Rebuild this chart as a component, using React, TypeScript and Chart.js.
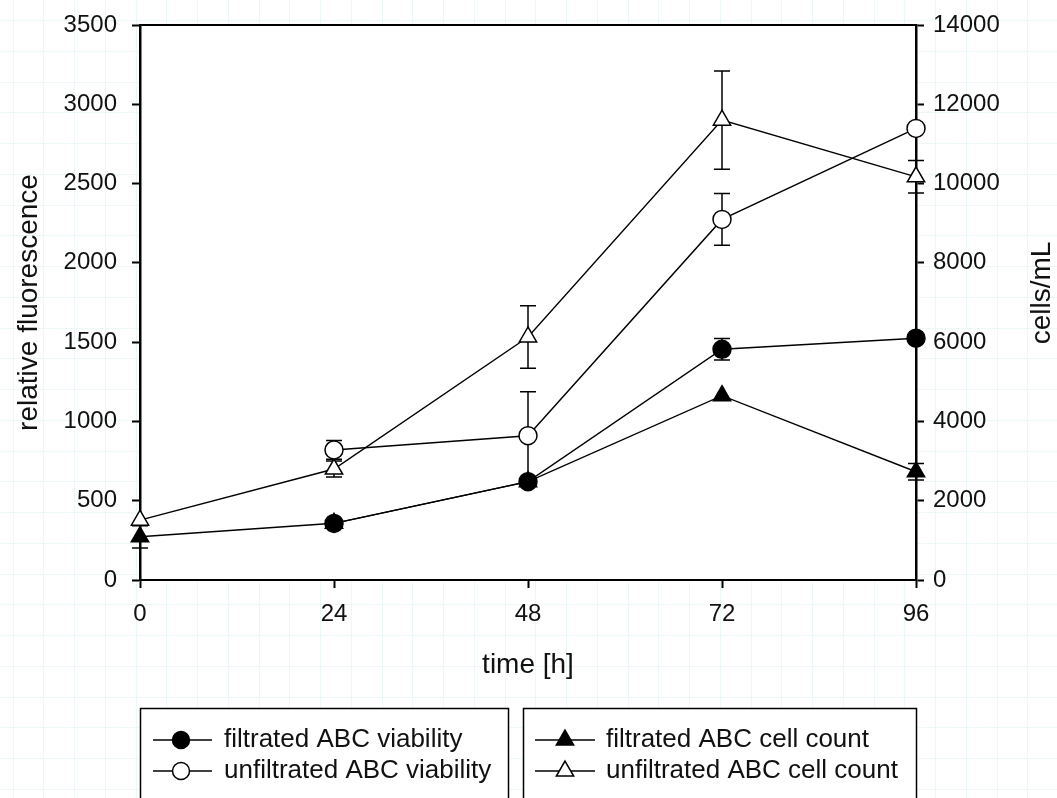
import React, { useEffect, useRef } from "react";
import { Chart, registerables } from "chart.js";

Chart.register(...registerables);

// ---- data ----
const timeH = [0, 24, 48, 72, 96];
const xTicks = [0, 24, 48, 72, 96];
const leftTicks = [0, 500, 1000, 1500, 2000, 2500, 3000, 3500];
const rightTicks = [0, 2000, 4000, 6000, 8000, 10000, 12000, 14000];

const filtViab = [null, 357, 620, 1455, 1525];
const filtViabErr = [0, 0, 0, 68, 0];
const unfiltViab = [null, 820, 910, 2274, 2848];
const unfiltViabErr = [0, 59, 277, 163, 0];
const filtCount = [1090, 1430, 2480, 4650, 2730];
const filtCountErr = [280, 0, 0, 0, 210];
const unfiltCount = [1510, 2800, 6130, 11600, 10170];
const unfiltCountErr = [0, 200, 790, 1240, 410];

const seriesLabels = [
  "filtrated ABC viability",
  "unfiltrated ABC viability",
  "filtrated ABC cell count",
  "unfiltrated ABC cell count",
];

const FONT = "'Liberation Sans', Arial, sans-serif";
const INK = "#111";

const W = 1057;
const H = 798;
const PLOT = { left: 140, right: 916, top: 25, bottom: 580 };

function toPoints(vals: (number | null)[]) {
  return timeH.map((t, i) => ({ x: t, y: vals[i] }));
}

function drawMarker(ctx: CanvasRenderingContext2D, style: string, filled: boolean, x: number, y: number, r: number) {
  ctx.save();
  ctx.beginPath();
  if (style === "circle") {
    ctx.arc(x, y, r, 0, Math.PI * 2);
  } else {
    let rad = 0;
    ctx.moveTo(x + Math.sin(rad) * r, y - Math.cos(rad) * r);
    rad += (2 * Math.PI) / 3;
    ctx.lineTo(x + Math.sin(rad) * r, y - Math.cos(rad) * r);
    rad += (2 * Math.PI) / 3;
    ctx.lineTo(x + Math.sin(rad) * r, y - Math.cos(rad) * r);
    ctx.closePath();
  }
  ctx.fillStyle = filled ? "#000" : "#fff";
  ctx.fill();
  ctx.lineWidth = 1.5;
  ctx.strokeStyle = "#000";
  ctx.stroke();
  ctx.restore();
}

const errors = [filtViabErr, unfiltViabErr, filtCountErr, unfiltCountErr];

const backgroundPlugin = {
  id: "bgGrid",
  beforeDraw(chart: any) {
    const ctx = chart.ctx as CanvasRenderingContext2D;
    ctx.save();
    ctx.fillStyle = "#fff";
    ctx.fillRect(0, 0, W, H);
    ctx.strokeStyle = "#eef7f7";
    ctx.lineWidth = 1;
    const step = 30.75;
    for (let x = 12.5; x < W; x += step) {
      ctx.beginPath();
      ctx.moveTo(Math.round(x) + 0.5, 0);
      ctx.lineTo(Math.round(x) + 0.5, H);
      ctx.stroke();
    }
    for (let y = 20; y < H; y += step) {
      ctx.beginPath();
      ctx.moveTo(0, Math.round(y) + 0.5);
      ctx.lineTo(W, Math.round(y) + 0.5);
      ctx.stroke();
    }
    const a = chart.chartArea;
    ctx.fillStyle = "#fff";
    ctx.fillRect(a.left, a.top, a.right - a.left, a.bottom - a.top);
    ctx.restore();
  },
};

const errorBarPlugin = {
  id: "errorBars",
  beforeDatasetsDraw(chart: any) {
    const ctx = chart.ctx as CanvasRenderingContext2D;
    ctx.save();
    ctx.strokeStyle = "#000";
    ctx.lineWidth = 1.5;
    chart.data.datasets.forEach((ds: any, di: number) => {
      const yScale = chart.scales[ds.yAxisID];
      const xScale = chart.scales.x;
      const err = errors[di];
      ds.data.forEach((p: any, i: number) => {
        if (p.y == null || !err[i]) return;
        const x = xScale.getPixelForValue(p.x);
        const y1 = yScale.getPixelForValue(p.y + err[i]);
        const y2 = yScale.getPixelForValue(p.y - err[i]);
        ctx.beginPath();
        ctx.moveTo(x, y1);
        ctx.lineTo(x, y2);
        ctx.moveTo(x - 8, y1);
        ctx.lineTo(x + 8, y1);
        ctx.moveTo(x - 8, y2);
        ctx.lineTo(x + 8, y2);
        ctx.stroke();
      });
    });
    ctx.restore();
  },
};

const decorPlugin = {
  id: "decor",
  afterDraw(chart: any) {
    const ctx = chart.ctx as CanvasRenderingContext2D;
    const a = chart.chartArea;
    ctx.save();
    // top frame line
    ctx.strokeStyle = "#000";
    ctx.lineWidth = 2;
    ctx.beginPath();
    ctx.moveTo(a.left, a.top);
    ctx.lineTo(a.right, a.top);
    ctx.stroke();

    // axis titles
    ctx.fillStyle = INK;
    ctx.font = `28px ${FONT}`;
    ctx.textAlign = "center";
    ctx.textBaseline = "middle";
    const midY = (a.top + a.bottom) / 2;
    ctx.save();
    ctx.translate(29, midY);
    ctx.rotate(-Math.PI / 2);
    ctx.fillText("relative fluorescence", 0, 0);
    ctx.restore();
    ctx.save();
    ctx.translate(1042, 293);
    ctx.rotate(-Math.PI / 2);
    ctx.fillText("cells/mL", 0, 0);
    ctx.restore();
    ctx.fillText("time [h]", (a.left + a.right) / 2, 665);

    // legend boxes
    const boxes = [
      { x: 140, w: 368, items: [0, 1], lx1: 153, lx2: 212, mx: 181, tx: 224 },
      { x: 523, w: 393, items: [2, 3], lx1: 535, lx2: 595, mx: 565, tx: 606 },
    ];
    const rows = [740, 771];
    const styles = [
      { s: "circle", f: true, r: 8.5 },
      { s: "circle", f: false, r: 8.5 },
      { s: "triangle", f: true, r: 10 },
      { s: "triangle", f: false, r: 10 },
    ];
    boxes.forEach((b) => {
      ctx.fillStyle = "#fff";
      ctx.fillRect(b.x, 708, b.w, 120);
      ctx.strokeStyle = "#000";
      ctx.lineWidth = 1.5;
      ctx.strokeRect(b.x + 0.5, 708.5, b.w, 120);
      b.items.forEach((idx, k) => {
        const y = rows[k];
        ctx.strokeStyle = "#000";
        ctx.lineWidth = 1.5;
        ctx.beginPath();
        ctx.moveTo(b.lx1, y);
        ctx.lineTo(b.lx2, y);
        ctx.stroke();
        const st = styles[idx];
        drawMarker(ctx, st.s, st.f, b.mx, y, st.r);
        ctx.fillStyle = INK;
        ctx.font = `26px ${FONT}`;
        ctx.textAlign = "left";
        ctx.textBaseline = "middle";
        ctx.fillText(seriesLabels[idx], b.tx, y);
      });
    });
    ctx.restore();
  },
};

const plainNum = (v: any) => String(v);

export default function App() {
  const ref = useRef<HTMLCanvasElement | null>(null);

  useEffect(() => {
    if (!ref.current) return;
    const lineBase = {
      borderColor: "#000",
      borderWidth: 1.4,
      pointBorderColor: "#000",
      pointBorderWidth: 1.5,
      pointHoverRadius: 0,
      tension: 0,
      spanGaps: false,
      fill: false,
      clip: false,
    };
    const chart = new Chart(ref.current, {
      type: "line",
      data: {
        datasets: [
          {
            ...lineBase,
            label: seriesLabels[0],
            data: toPoints(filtViab),
            yAxisID: "y",
            pointStyle: "circle",
            pointRadius: 9,
            pointBackgroundColor: "#000",
          },
          {
            ...lineBase,
            label: seriesLabels[1],
            data: toPoints(unfiltViab),
            yAxisID: "y",
            pointStyle: "circle",
            pointRadius: 9,
            pointBackgroundColor: "#fff",
          },
          {
            ...lineBase,
            label: seriesLabels[2],
            data: toPoints(filtCount),
            yAxisID: "y2",
            pointStyle: "triangle",
            pointRadius: 10,
            pointBackgroundColor: "#000",
          },
          {
            ...lineBase,
            label: seriesLabels[3],
            data: toPoints(unfiltCount),
            yAxisID: "y2",
            pointStyle: "triangle",
            pointRadius: 10,
            pointBackgroundColor: "#fff",
          },
        ] as any,
      },
      options: {
        responsive: false,
        animation: false,
        devicePixelRatio: 1,
        events: [],
        layout: { padding: { top: PLOT.top, left: 0, right: 0, bottom: 0 } },
        plugins: { legend: { display: false }, tooltip: { enabled: false } },
        scales: {
          x: {
            type: "linear",
            position: "bottom",
            min: xTicks[0],
            max: xTicks[xTicks.length - 1],
            afterBuildTicks: (s: any) => {
              s.ticks = xTicks.map((v) => ({ value: v }));
            },
            ticks: { color: INK, font: { family: FONT, size: 24 }, padding: 12, maxRotation: 0, autoSkip: false, callback: plainNum },
            grid: { drawOnChartArea: false, drawTicks: true, tickLength: 8, tickWidth: 2, tickColor: "#000" },
            border: { display: true, color: "#000", width: 2 },
            afterFit: (s: any) => {
              s.height = H - PLOT.bottom;
              s.paddingLeft = 0;
              s.paddingRight = 0;
            },
          },
          y: {
            type: "linear",
            position: "left",
            min: leftTicks[0],
            max: leftTicks[leftTicks.length - 1],
            afterBuildTicks: (s: any) => {
              s.ticks = leftTicks.map((v) => ({ value: v }));
            },
            ticks: { color: INK, font: { family: FONT, size: 24 }, padding: 15, autoSkip: false, callback: plainNum },
            grid: { drawOnChartArea: false, drawTicks: true, tickLength: 8, tickWidth: 2, tickColor: "#000" },
            border: { display: true, color: "#000", width: 2.5 },
            afterFit: (s: any) => {
              s.width = PLOT.left;
              s.paddingTop = 0;
              s.paddingBottom = 0;
            },
          },
          y2: {
            type: "linear",
            position: "right",
            min: rightTicks[0],
            max: rightTicks[rightTicks.length - 1],
            afterBuildTicks: (s: any) => {
              s.ticks = rightTicks.map((v) => ({ value: v }));
            },
            ticks: { color: INK, font: { family: FONT, size: 24 }, padding: 9, autoSkip: false, callback: plainNum },
            grid: { drawOnChartArea: false, drawTicks: true, tickLength: 8, tickWidth: 2, tickColor: "#000" },
            border: { display: true, color: "#000", width: 2.5 },
            afterFit: (s: any) => {
              s.width = W - PLOT.right;
              s.paddingTop = 0;
              s.paddingBottom = 0;
            },
          },
        },
      } as any,
      plugins: [backgroundPlugin, errorBarPlugin, decorPlugin],
    });
    return () => chart.destroy();
  }, []);

  return (
    <div style={{ position: "absolute", left: 0, top: 0, width: W, height: H }}>
      <canvas ref={ref} width={W} height={H} style={{ display: "block", width: W, height: H }} />
    </div>
  );
}
